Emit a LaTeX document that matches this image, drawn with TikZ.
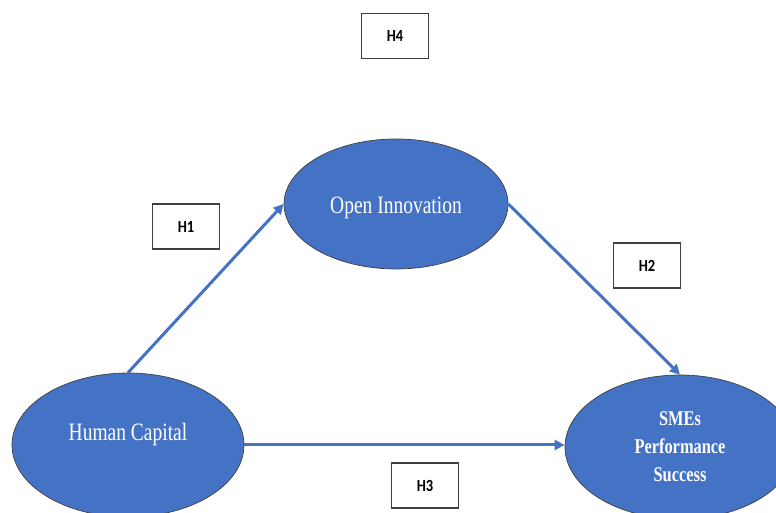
\documentclass[tikz,border=0pt]{standalone}
\usepackage{fontspec}
\setmainfont{Liberation Serif}
\newfontfamily\ovalfont[FakeStretch=0.78]{Liberation Serif}
\newfontfamily\hypfont[FakeStretch=0.85]{Carlito}
\usetikzlibrary{shapes.geometric,arrows.meta}
\definecolor{ovalblue}{HTML}{4472C4}
\tikzset{
  construct/.style={ellipse, fill=ovalblue, draw=black!75, line width=0.7pt,
    text=white, inner sep=0pt, font=\ovalfont\fontsize{25}{30}\selectfont},
  ovaltext/.style={text=white, font=\ovalfont\fontsize{25}{30}\selectfont},
  hypbox/.style={draw=black!75, line width=1.2pt, fill=white, inner sep=0pt,
    minimum width=67pt, minimum height=45pt,
    font=\hypfont\bfseries\fontsize{17}{19}\selectfont},
  link/.style={->, ovalblue, line width=3pt}
}
\begin{document}
\begin{tikzpicture}[x=1pt, y=1pt, >={Triangle[length=10pt,width=10pt]}]
    \clip (0,0) rectangle (776,513);
    % the three constructs
    \node[construct, minimum width=224pt, minimum height=130pt,
          label={[ovaltext, yshift=-4pt]center:Open Innovation}] (oi) at (396,309) {};
    \node[construct, minimum width=232pt, minimum height=144pt,
          label={[ovaltext, yshift=11pt]center:Human Capital}] (hc) at (128,68) {};
    \node[construct, minimum width=230pt, minimum height=144pt, align=center,
          font=\ovalfont\bfseries\fontsize{21}{28}\selectfont] (sme) at (680,66) {SMEs\\Performance\\Success};
    % hypothesised paths
    \draw[link] (hc.north) -- (oi.west);
    \draw[link] (oi.east) -- (sme.north);
    \draw[link] (hc.east) -- (hc.east -| sme.west);
    % hypothesis labels
    \node[hypbox] (h1) at (186,286.5) {H1};
    \node[hypbox] (h2) at (647,247.5) {H2};
    \node[hypbox] (h3) at (425,27.5) {H3};
    \node[hypbox] (h4) at (395,477) {H4};
\end{tikzpicture}
\end{document}
